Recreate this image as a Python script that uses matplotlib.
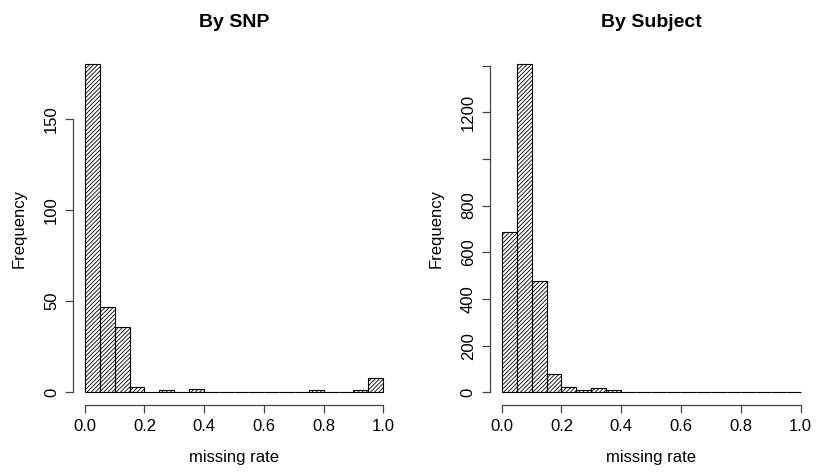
import numpy as np
import matplotlib
matplotlib.use("Agg")
import matplotlib.pyplot as plt

plt.rcParams['font.family'] = ['Liberation Sans', 'DejaVu Sans']
plt.rcParams['hatch.linewidth'] = 0.6

# Histogramas de la tasa de datos faltantes (bins de 0.05 entre 0 y 1)
bin_edges = np.linspace(0.0, 1.0, 21)
snp_counts = [180, 47, 36, 3, 0, 1, 0, 2, 0, 0, 0, 0, 0, 0, 0, 1, 0, 0, 1, 8]
subject_counts = [685, 1407, 478, 78, 24, 9, 17, 10, 3, 0, 0, 0, 0, 0, 0, 0, 0, 0, 0, 3]

snp_ticks = [0, 50, 100, 150]
snp_ticklabels = ["0", "50", "100", "150"]
subject_ticks = [0, 200, 400, 600, 800, 1000, 1200, 1400]
subject_ticklabels = ["0", "200", "400", "600", "800", "", "1200", ""]
x_ticks = [0.0, 0.2, 0.4, 0.6, 0.8, 1.0]
x_ticklabels = ["0.0", "0.2", "0.4", "0.6", "0.8", "1.0"]

fig = plt.figure(figsize=(8.17, 4.76), dpi=100)
ax1 = fig.add_axes([0.0891, 0.1483, 0.3947, 0.745])
ax2 = fig.add_axes([0.5994, 0.1483, 0.3952, 0.745])


def r_hist(ax, counts, yticks, yticklabels, title):
    ax.bar(bin_edges[:-1], counts, width=0.05, align="edge", fill=False,
           hatch="////////", edgecolor="black", linewidth=0.8)
    ymax = max(counts)
    ax.set_xlim(-0.04, 1.04)
    ax.set_ylim(-0.04 * ymax, 1.04 * ymax)
    for s in ["top", "right"]:
        ax.spines[s].set_visible(False)
    ax.spines["bottom"].set_bounds(0.0, 1.0)
    ax.spines["left"].set_bounds(0, yticks[-1])
    for s in ["bottom", "left"]:
        ax.spines[s].set_color("#444444")
        ax.spines[s].set_linewidth(0.9)
    ax.set_xticks(x_ticks)
    ax.set_xticklabels(x_ticklabels)
    ax.set_yticks(yticks)
    ax.set_yticklabels(yticklabels, rotation=90, va="center")
    ax.tick_params(axis="both", direction="out", length=5.5, width=0.9,
                   color="#444444", labelsize=12, pad=4.5)
    ax.set_xlabel("missing rate", fontsize=12)
    ax.xaxis.set_label_coords(0.5, -0.148)
    ax.xaxis.label.set_va("center")
    ax.set_ylabel("Frequency", fontsize=12)
    ax.yaxis.set_label_coords(-0.166, 0.5)
    ax.yaxis.label.set_va("center")
    # titulo a unos 20 px del borde superior
    ax.set_title(title, fontsize=14, fontweight="bold", pad=0,
                 y=1.0 + (50.8 - 22.5) / 354.6, va="center")


r_hist(ax1, snp_counts, snp_ticks, snp_ticklabels, "By SNP")
r_hist(ax2, subject_counts, subject_ticks, subject_ticklabels, "By Subject")

fig.savefig("out.png", dpi=100, facecolor="white")
